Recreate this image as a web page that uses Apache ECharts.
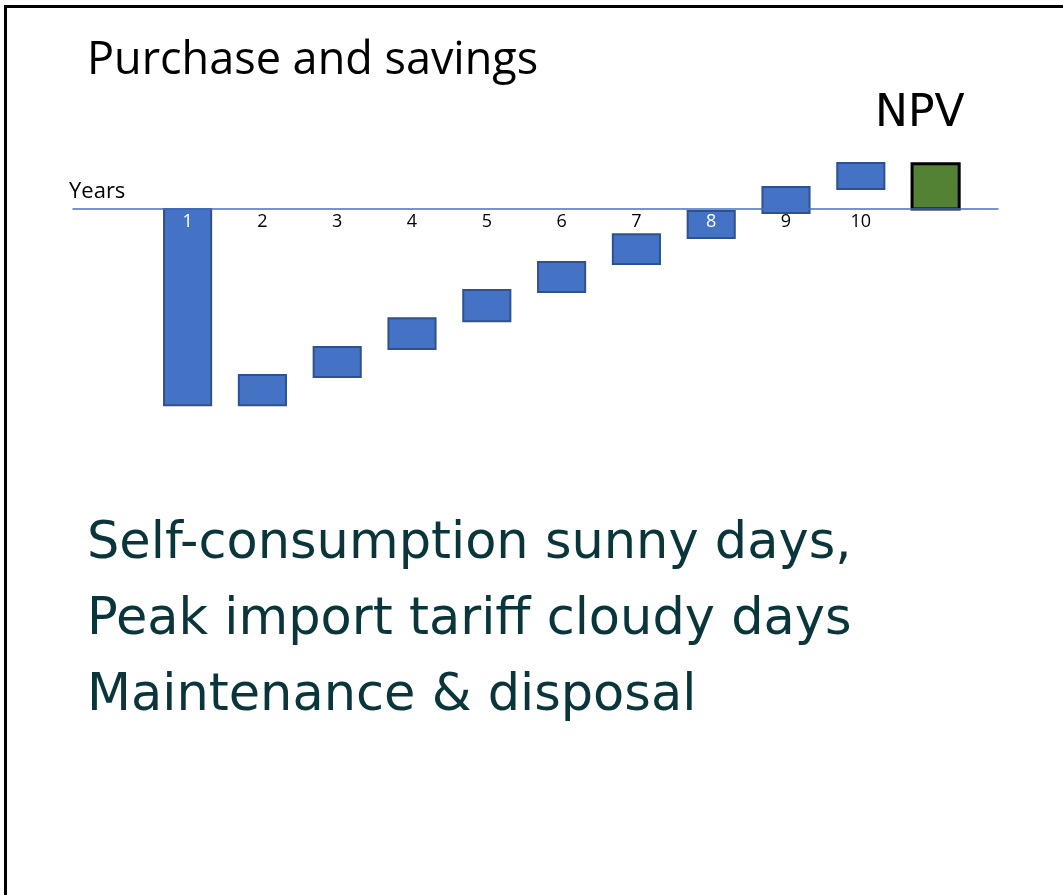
<!DOCTYPE html>
<html lang="en">
<head>
    <meta charset="UTF-8">
    <title>Purchase and savings</title>
    <style>
        body {
            margin: 0;
            overflow: hidden;
            background: #fff;
        }
        #chart {
            position: absolute;
            left: 0;
            top: 0;
            width: 1063px;
            height: 895px;
        }
        .frame {
            position: absolute;
            left: 4px;
            top: 5px;
            width: 1070px;
            height: 900px;
            border-left: 3px solid #000;
            border-top: 3px solid #000;
        }
    </style>
</head>
<body>
    <div class="frame"></div>
    <div id="chart"></div>
    <script src="https://cdn.jsdelivr.net/npm/echarts@6/dist/echarts.min.js"></script>
    <script>
        // years 1..10 and the NPV column (11)
        var years = [1, 2, 3, 4, 5, 6, 7, 8, 9, 10, 11];
        var yearLabels = ['1', '2', '3', '4', '5', '6', '7', '8', '9', '10', ''];
        // bottom / top of each floating bar
        var lows = [-6000, -6000, -5140, -4280, -3430, -2540, -1680, -890, -120, 610, 0];
        var highs = [0, -5080, -4220, -3340, -2480, -1620, -770, -60, 670, 1410, 1380];
        var notes = ['Self-consumption sunny days,', 'Peak import tariff cloudy days', 'Maintenance & disposal'];

        var blue = '#4472c4';
        var font = 'Open Sans';
        var wideFont = 'DejaVu Sans';

        var barData = years.map(function (x, i) {
            return [x, lows[i], highs[i]];
        });

        var myChart = echarts.init(document.getElementById('chart'));

        var option = {
            animation: false,
            textStyle: { fontFamily: font },
            title: [
                {
                    text: 'Purchase and savings',
                    left: 82, top: 34,
                    textStyle: { fontSize: 45, fontWeight: 'normal', color: '#000', fontFamily: font }
                },
                {
                    text: 'NPV',
                    left: 870, top: 88,
                    textStyle: { fontSize: 44, fontWeight: 'normal', color: '#000', fontFamily: wideFont }
                },
                {
                    text: notes.join('\n'),
                    left: 82, top: 502,
                    textStyle: { fontSize: 51, lineHeight: 76, fontWeight: 'normal', color: '#0a363b', fontFamily: wideFont }
                }
            ],
            // x axis sits on the zero line; the grid ends there
            grid: { left: 73, right: 65, top: 143.6, bottom: 686 },
            xAxis: {
                type: 'value',
                min: -0.532,
                max: 11.834,
                z: 5,
                name: 'Years',
                nameLocation: 'start',
                nameGap: 4,
                nameTextStyle: { align: 'left', verticalAlign: 'bottom', fontSize: 22, color: '#000', padding: [0, 0, 6, 0] },
                axisLine: { show: true, lineStyle: { color: blue, width: 1.5 } },
                axisTick: { show: false },
                splitLine: { show: false },
                axisLabel: {
                    customValues: years.slice(0, 10),
                    formatter: function (v) { return yearLabels[v - 1]; },
                    fontSize: 18,
                    margin: 4,
                    color: function (v) {
                        var n = Number(v);
                        return (n === 1 || n === 8) ? '#fff' : '#000';
                    }
                }
            },
            yAxis: {
                type: 'value',
                min: 0,
                max: 2000,
                show: false
            },
            series: [{
                type: 'custom',
                z: 2,
                clip: false,
                renderItem: function (params, api) {
                    var x = api.value(0);
                    var p1 = api.coord([x, api.value(1)]);
                    var p2 = api.coord([x, api.value(2)]);
                    var w = api.size([0.63, 0])[0];
                    var npv = params.dataIndex === years.length - 1;
                    return {
                        type: 'rect',
                        shape: { x: p1[0] - w / 2, y: Math.min(p1[1], p2[1]), width: w, height: Math.abs(p1[1] - p2[1]) },
                        style: {
                            fill: npv ? '#548235' : blue,
                            stroke: npv ? '#000' : '#2f528f',
                            lineWidth: npv ? 3 : 2
                        }
                    };
                },
                encode: { x: 0, y: [1, 2] },
                data: barData
            }]
        };

        myChart.setOption(option);
    </script>
</body>
</html>
